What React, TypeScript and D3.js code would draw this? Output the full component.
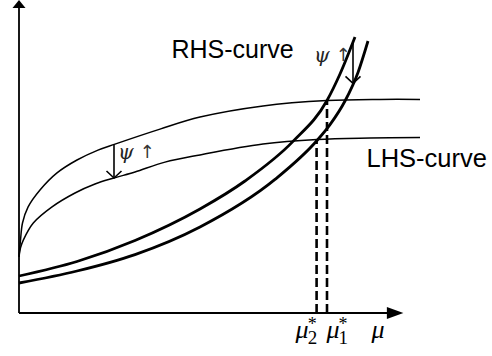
import React from 'react';
import * as d3 from 'd3';

// LHS curves (thin, concave) – upper: before ψ increase, lower: after
const lhsHighX = [0, 0.375, 0.875, 2.25, 5.25, 9.5, 14.5, 19.75, 24, 35.25, 45.25, 61, 77, 90.25, 100.25];
const lhsHighY = [18.7, 24.3, 30, 35.3, 41, 46.7, 51, 54.3, 56.3, 61.3, 65.3, 69, 70.8, 71.2, 71.2];
const lhsLowX = [0, 0.375, 1.075, 3.575, 8.175, 14, 19, 23.75, 29, 36.5, 45.25, 61, 74.5, 87.75, 100.25];
const lhsLowY = [18.7, 21.7, 24.3, 30, 35.3, 40, 43, 45, 47, 50.3, 52.7, 56.3, 57.8, 58.3, 58.5];

// RHS curves (thick, convex) – left: before ψ increase, right: after
const rhsLeftX = [0, 14.5, 29, 45.25, 56.5, 68.5, 77, 80.25, 84];
const rhsLeftY = [12.33, 17.17, 24.17, 34.67, 44, 57.2, 70.83, 79.67, 92];
const rhsRightX = [0, 14.5, 29, 45.25, 64, 74.5, 77.75, 81.5, 84.75, 87.25];
const rhsRightY = [10, 14, 19.47, 28.67, 44.53, 57.5, 62.8, 70.67, 80.2, 90.67];

const muStar1 = 77;
const muStar2 = 74.4;
const psiArrowLeftX = 23.75;
const psiArrowRightX = 83.5;
const axisXMax = 96.1;
const axisYMax = 104.3;

function interp(xs: number[], ys: number[], v: number): number {
  for (let i = 0; i < xs.length - 1; i++) {
    if (v >= xs[i] && v <= xs[i + 1]) {
      const t = (v - xs[i]) / (xs[i + 1] - xs[i]);
      return ys[i] + t * (ys[i + 1] - ys[i]);
    }
  }
  return ys[ys.length - 1];
}

export default function App() {
  const x = d3.scaleLinear().domain([0, 100]).range([19, 419]);
  const y = d3.scaleLinear().domain([0, 100]).range([313, 13]);

  const path = (xs: number[], ys: number[], curve: d3.CurveFactory) =>
    d3
      .line<number>()
      .x((_, i) => x(xs[i]))
      .y((_, i) => y(ys[i]))
      .curve(curve)(xs) as string;

  const x0 = x(0);
  const y0 = y(0);
  const xEnd = x(axisXMax);
  const yEnd = y(axisYMax);

  const arrowDown = (ax: number, ayTop: number, ayBot: number, key: string) => {
    const px = x(ax);
    const t = y(ayTop);
    const b = y(ayBot);
    return (
      <g key={key} stroke="#000" strokeWidth={1.6} fill="none">
        <line x1={px} y1={t} x2={px} y2={b} />
        <polyline points={`${px - 7.5},${b - 7} ${px},${b} ${px + 7.5},${b - 7}`} />
      </g>
    );
  };

  const leftTop = interp(lhsHighX, lhsHighY, psiArrowLeftX);
  const leftBot = interp(lhsLowX, lhsLowY, psiArrowLeftX);
  const rightTop = interp(rhsLeftX, rhsLeftY, psiArrowRightX);
  const rightBot = interp(rhsRightX, rhsRightY, psiArrowRightX);

  const mu1Top = interp(lhsHighX, lhsHighY, muStar1);
  const mu2Top = interp(lhsLowX, lhsLowY, muStar2);

  const serif = '"Liberation Serif", "Times New Roman", serif';
  const greek = '"DejaVu Serif", "Liberation Serif", serif';
  const sans = '"Liberation Sans", Arial, sans-serif';
  const arrowFont = '"DejaVu Sans", sans-serif';

  const psiLabel = (px: number, py: number, key: string) => (
    <text key={key} x={px} y={py} fill="#222" opacity={0.99}>
      <tspan fontFamily={greek} fontStyle="italic" fontSize={20}>ψ</tspan>
      <tspan fontFamily={arrowFont} fontSize={18} dx={6} dy={-1} fill="#333">↑</tspan>
    </text>
  );

  const muLabel = (px: number, sub: string, key: string) => (
    <text key={key} x={px} y={338} fontFamily={serif} fill="#000" opacity={0.99}>
      <tspan fontStyle="italic" fontSize={26}>μ</tspan>
      <tspan fontSize={19} dx={-1} dy={5.5}>{sub}</tspan>
      <tspan fontSize={18} dx={-9.5} dy={-14}>*</tspan>
    </text>
  );

  return (
    <svg width={492} height={356} style={{ position: 'absolute', left: 0, top: 0, background: '#fff' }}>
      {/* axes */}
      <g stroke="#000" strokeWidth={1.8} fill="none">
        <line x1={x0} y1={y0} x2={xEnd - 14} y2={y0} />
        <line x1={x0} y1={y0} x2={x0} y2={yEnd + 6} />
      </g>
      <polygon points={`${xEnd},${y0} ${xEnd - 16.5},${y0 - 6} ${xEnd - 16.5},${y0 + 6}`} fill="#000" />
      <polygon points={`${x0},${yEnd} ${x0 - 6.5},${yEnd + 8} ${x0 + 6.5},${yEnd + 8}`} fill="#000" />

      {/* dashed lines */}
      <g stroke="#000" strokeWidth={2.6} strokeDasharray="9,4" fill="none">
        <line x1={x(muStar1)} y1={y0} x2={x(muStar1)} y2={y(mu1Top)} />
        <line x1={x(muStar2)} y1={y0} x2={x(muStar2)} y2={y(mu2Top)} />
      </g>

      {/* LHS curves */}
      <g stroke="#000" strokeWidth={1.5} fill="none">
        <path d={path(lhsHighX, lhsHighY, d3.curveCatmullRom.alpha(0.5))} />
        <path d={path(lhsLowX, lhsLowY, d3.curveCatmullRom.alpha(0.5))} />
      </g>
      {/* RHS curves */}
      <g stroke="#000" strokeWidth={2.8} fill="none">
        <path d={path(rhsLeftX, rhsLeftY, d3.curveMonotoneX)} />
        <path d={path(rhsRightX, rhsRightY, d3.curveMonotoneX)} />
      </g>

      {arrowDown(psiArrowLeftX, leftTop, leftBot, 'a1')}
      {arrowDown(psiArrowRightX, rightTop, rightBot, 'a2')}

      {psiLabel(118, 159, 'p1')}
      {psiLabel(314, 62, 'p2')}

      <text x={171.5} y={57.5} fontFamily={sans} fontSize={25} fill="#000">RHS-curve</text>
      <text x={366.5} y={166.5} fontFamily={sans} fontSize={25.5} fill="#000">LHS-curve</text>

      {muLabel(x(muStar2) - 21, '2', 'm2')}
      {muLabel(x(muStar1) - 0.5, '1', 'm1')}
      <text x={371.5} y={338} fontFamily={serif} fontStyle="italic" fontSize={26} fill="#000">μ</text>
    </svg>
  );
}
